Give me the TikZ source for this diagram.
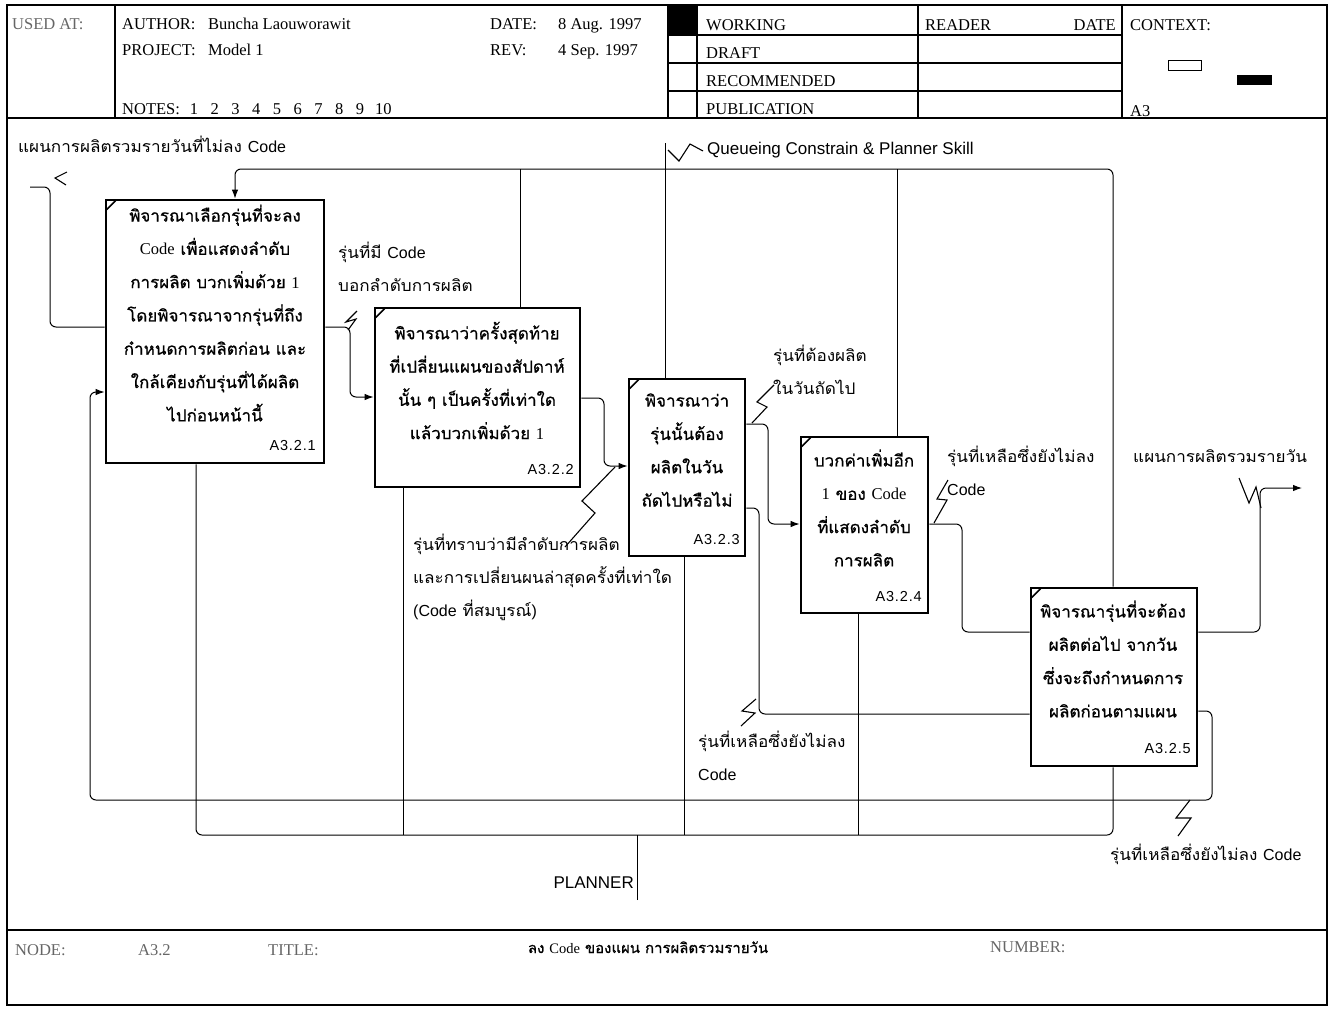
\documentclass[tikz,border=0pt]{standalone}
\usepackage{fontspec}
\setmainfont{Liberation Serif}
\setsansfont{Liberation Sans}
\newfontfamily\thai[Script=Thai,FakeStretch=1.07]{Loma}
\newfontfamily\thaibox[Script=Thai,FakeStretch=1.03,FakeBold=0.8]{Loma}
\newfontfamily\idfont[LetterSpace=6.0]{Liberation Sans}
\usetikzlibrary{arrows.meta}
\tikzset{
  frame/.style={line width=1.3pt},
  procbox/.style={draw, line width=2.8pt, inner sep=0pt},
  conn/.style={line width=1pt, rounded corners=6pt},
  arr/.style={conn, -{Latex[length=9pt,width=6.5pt]}},
  zig/.style={line width=1.1pt},
  hdr/.style={font=\fontsize{16.5}{16.5}\selectfont, anchor=base west, inner sep=0pt},
  hdrgray/.style={hdr, text=black!60},
  lbl/.style={font=\thai\fontsize{16}{16}\selectfont, anchor=base west, inner sep=0pt},
  boxtxt/.style={font=\thaibox\fontsize{16.5}{33.3}\selectfont, align=center, inner sep=0pt},
  boxid/.style={font=\idfont\fontsize{14.5}{14.5}\selectfont, anchor=base east, inner sep=0pt},
  sflbl/.style={font=\sffamily\fontsize{17}{17}\selectfont, inner sep=0pt},
}
\begin{document}
\begin{tikzpicture}[x=1pt,y=-1pt]
\useasboundingbox (0,0) rectangle (1334,1010);
\fill[white] (0,0) rectangle (1334,1010);

% ---- sheet frame ----
\draw[frame] (7,5) rectangle (1327,1005);
\draw[frame] (7,118) -- (1327,118);
\draw[frame] (7,930) -- (1327,930);
\draw[frame] (115,5) -- (115,118);
\draw[frame] (668,5) -- (668,118);
\draw[frame] (697,5) -- (697,118);
\draw[frame] (918,5) -- (918,118);
\draw[frame] (1122,5) -- (1122,118);
\foreach \yy in {35,63,91} \draw[frame] (668,\yy) -- (1122,\yy);
\fill (669,6) rectangle (697,35);

% ---- header text ----
\node[hdrgray] (usedat) at (12,29) {USED AT:};
\node[hdr] (author) at (122,29) {AUTHOR:};
\node[hdr] (authorv) at (208,29) {Buncha Laouworawit};
\node[hdr] (project) at (122,55) {PROJECT:};
\node[hdr] (projectv) at (208,55) {Model 1};
\node[hdr] (notes) at (122,114) {NOTES:\hspace{10pt}1\hspace{12.5pt}2\hspace{12.5pt}3\hspace{12.5pt}4\hspace{12.5pt}5\hspace{12.5pt}6\hspace{12.5pt}7\hspace{12.5pt}8\hspace{12.5pt}9\hspace{11pt}10};
\node[hdr] (date) at (490,29) {DATE:};
\node[hdr] (datev) at (558,29) {8 Aug. 1997};
\node[hdr] (rev) at (490,55) {REV:};
\node[hdr] (revv) at (558,55) {4 Sep. 1997};
\node[hdr] (working) at (706,30) {WORKING};
\node[hdr] (draft) at (706,58) {DRAFT};
\node[hdr] (recom) at (706,86) {RECOMMENDED};
\node[hdr] (public) at (706,114) {PUBLICATION};
\node[hdr] (reader) at (925,30) {READER};
\node[hdr, anchor=base east] (rdate) at (1116,30) {DATE};
\node[hdr] (context) at (1130,30) {CONTEXT:};
\node[hdr] (ctxa) at (1130,116) {A3};
\draw[line width=1pt] (1168,60) rectangle (1201,70);
\fill (1237,75) rectangle (1272,85);

% ---- footer ----
\node[hdrgray] (nodelbl) at (15,955) {NODE:};
\node[hdrgray] (nodeval) at (138,955) {A3.2};
\node[hdrgray] (titlelbl) at (268,955) {TITLE:};
\node[font=\thaibox\fontsize{14.5}{14.5}\selectfont, anchor=base, inner sep=0pt] (title) at (648,953) {ลง {\rmfamily Code} ของแผน การผลิตรวมรายวัน};
\node[hdrgray] (numlbl) at (990,952) {NUMBER:};

% ---- activity boxes ----
\node[procbox, minimum width=218pt, minimum height=263pt] (b1) at (215,331.5) {};
\node[procbox, minimum width=205pt, minimum height=179pt] (b2) at (477.5,397.5) {};
\node[procbox, minimum width=116pt, minimum height=177pt] (b3) at (687,467.5) {};
\node[procbox, minimum width=127pt, minimum height=176pt] (b4) at (864.5,525) {};
\node[procbox, minimum width=166pt, minimum height=178pt] (b5) at (1114,677) {};

% corner ticks
\foreach \b in {b1,b2,b3,b4,b5}
  \draw[line width=1.6pt] ([shift={(2,11)}]\b.north west) -- ([shift={(11,2)}]\b.north west);

\node[boxtxt] (b1t) at (215,313) {พิจารณาเลือกรุ่นที่จะลง\\{\rmfamily Code} เพื่อแสดงลำดับ\\การผลิต บวกเพิ่มด้วย {\rmfamily 1}\\โดยพิจารณาจากรุ่นที่ถึง\\กำหนดการผลิตก่อน และ\\ใกล้เคียงกับรุ่นที่ได้ผลิต\\ไปก่อนหน้านี้};
\node[boxtxt] (b2t) at (477,380.5) {พิจารณาว่าครั้งสุดท้าย\\ที่เปลี่ยนแผนของสัปดาห์\\นั้น ๆ เป็นครั้งที่เท่าใด\\แล้วบวกเพิ่มด้วย {\rmfamily 1}};
\node[boxtxt] (b3t) at (687,450) {พิจารณาว่า\\รุ่นนั้นต้อง\\ผลิตในวัน\\ถัดไปหรือไม่};
\node[boxtxt] (b4t) at (864,508) {บวกค่าเพิ่มอีก\\{\rmfamily 1} ของ {\rmfamily Code}\\ที่แสดงลำดับ\\การผลิต};
\node[boxtxt] (b5t) at (1113,659) {พิจารณารุ่นที่จะต้อง\\ผลิตต่อไป จากวัน\\ซึ่งจะถึงกำหนดการ\\ผลิตก่อนตามแผน};

\node[boxid] (b1id) at (316,450) {A3.2.1};
\node[boxid] (b2id) at (574,474) {A3.2.2};
\node[boxid] (b3id) at (740,544) {A3.2.3};
\node[boxid] (b4id) at (922,601) {A3.2.4};
\node[boxid] (b5id) at (1191,753) {A3.2.5};

% ---- input ----
\coordinate (inA) at (30,187);
\draw[conn] (inA) -- (50,187) -- (50,327) -- (b1.west |- 0,327);
\draw[zig] (67,172) -- (55,178) -- (66,185);
\node[lbl] (inAlbl) at (18,152) {แผนการผลิตรวมรายวันที่ไม่ลง {\sffamily Code}};

% ---- control ----
\coordinate (ctl) at (665,143);
\draw[conn] (ctl) -- (b3.north -| 665,0);
\draw[arr] (665,169) -- (235,169) -- (b1.north -| 235,0);
\draw[conn] (520,169) -- (b2.north -| 520,0);
\draw[conn] (665,169) -- (1113,169) -- (b5.north -| 1113,0);
\draw[conn] (897,169) -- (b4.north -| 897,0);
\draw[zig] (668,150) -- (679,161) -- (690,144) -- (703,151);
\node[sflbl, anchor=base west] (ctllbl) at (707,154) {Queueing Constrain \& Planner Skill};

% ---- flows between activities ----
\draw[arr] (b1.east |- 0,327) -- (350,327) -- (350,397) -- (b2.west |- 0,397);
\draw[zig] (357,311) -- (346,322) -- (356,319) -- (348,330);
\node[lbl] (o1a) at (338,258) {รุ่นที่มี {\sffamily Code}};
\node[lbl] (o1b) at (338,291) {บอกลำดับการผลิต};

\draw[arr] (b2.east |- 0,398) -- (604,398) -- (604,466) -- (b3.west |- 0,466);
\draw[zig] (565,547) -- (595,513) -- (582,501) -- (615,467);
\node[lbl] (o2a) at (413,550) {รุ่นที่ทราบว่ามีลำดับการผลิต};
\node[lbl] (o2b) at (413,583) {และการเปลี่ยนผนล่าสุดครั้งที่เท่าใด};
\node[lbl] (o2c) at (413,616) {{\sffamily (Code} ที่สมบูรณ์{\sffamily )}};

\draw[arr] (b3.east |- 0,424) -- (768,424) -- (768,524) -- (b4.west |- 0,524);
\draw[zig] (774,385) -- (757,402) -- (767,407) -- (752,423);
\node[lbl] (o3a) at (773,361) {รุ่นที่ต้องผลิต};
\node[lbl] (o3b) at (773,394) {ในวันถัดไป};

\draw[conn] (b3.east |- 0,508) -- (759,508) -- (759,714) -- (b5.west |- 0,714);
\draw[zig] (756,699) -- (742,711) -- (755,713) -- (741,726);
\node[lbl] (o3c) at (698,747) {รุ่นที่เหลือซึ่งยังไม่ลง};
\node[lbl] (o3d) at (698,780) {{\sffamily Code}};

\draw[conn] (b4.east |- 0,524) -- (962,524) -- (962,632) -- (b5.west |- 0,632);
\draw[zig] (948,480) -- (937,499) -- (947,500) -- (934,523);
\node[lbl] (o4a) at (947,462) {รุ่นที่เหลือซึ่งยังไม่ลง};
\node[lbl] (o4b) at (947,495) {{\sffamily Code}};

% ---- outputs ----
\coordinate (outA) at (1302,488);
\draw[arr] (b5.east |- 0,632) -- (1260,632) -- (1260,488) -- (outA);
\draw[zig] (1239,478) -- (1249,503) -- (1256,487) -- (1261,508);
\node[lbl] (outAlbl) at (1133,462) {แผนการผลิตรวมรายวัน};

\draw[arr] (b5.east |- 0,711) -- (1212,711) -- (1212,800) -- (90,800) -- (90,392) -- (b1.west |- 0,392);
\draw[zig] (1190,800) -- (1176,818) -- (1191,818) -- (1178,836);
\node[lbl] (o5b) at (1110,860) {รุ่นที่เหลือซึ่งยังไม่ลง {\sffamily Code}};

% ---- mechanism ----
\coordinate (mech) at (637,900);
\draw[conn] (mech) -- (637,835);
\draw[conn] (b1.south -| 196,0) -- (196,835) -- (1113,835) -- (b5.south -| 1113,0);
\draw[conn] (b2.south -| 403,0) -- (403,835);
\draw[conn] (b3.south -| 684,0) -- (684,835);
\draw[conn] (b4.south -| 858,0) -- (858,835);
\node[sflbl, anchor=base east] (mechlbl) at (634,888) {PLANNER};
\end{tikzpicture}
\end{document}
